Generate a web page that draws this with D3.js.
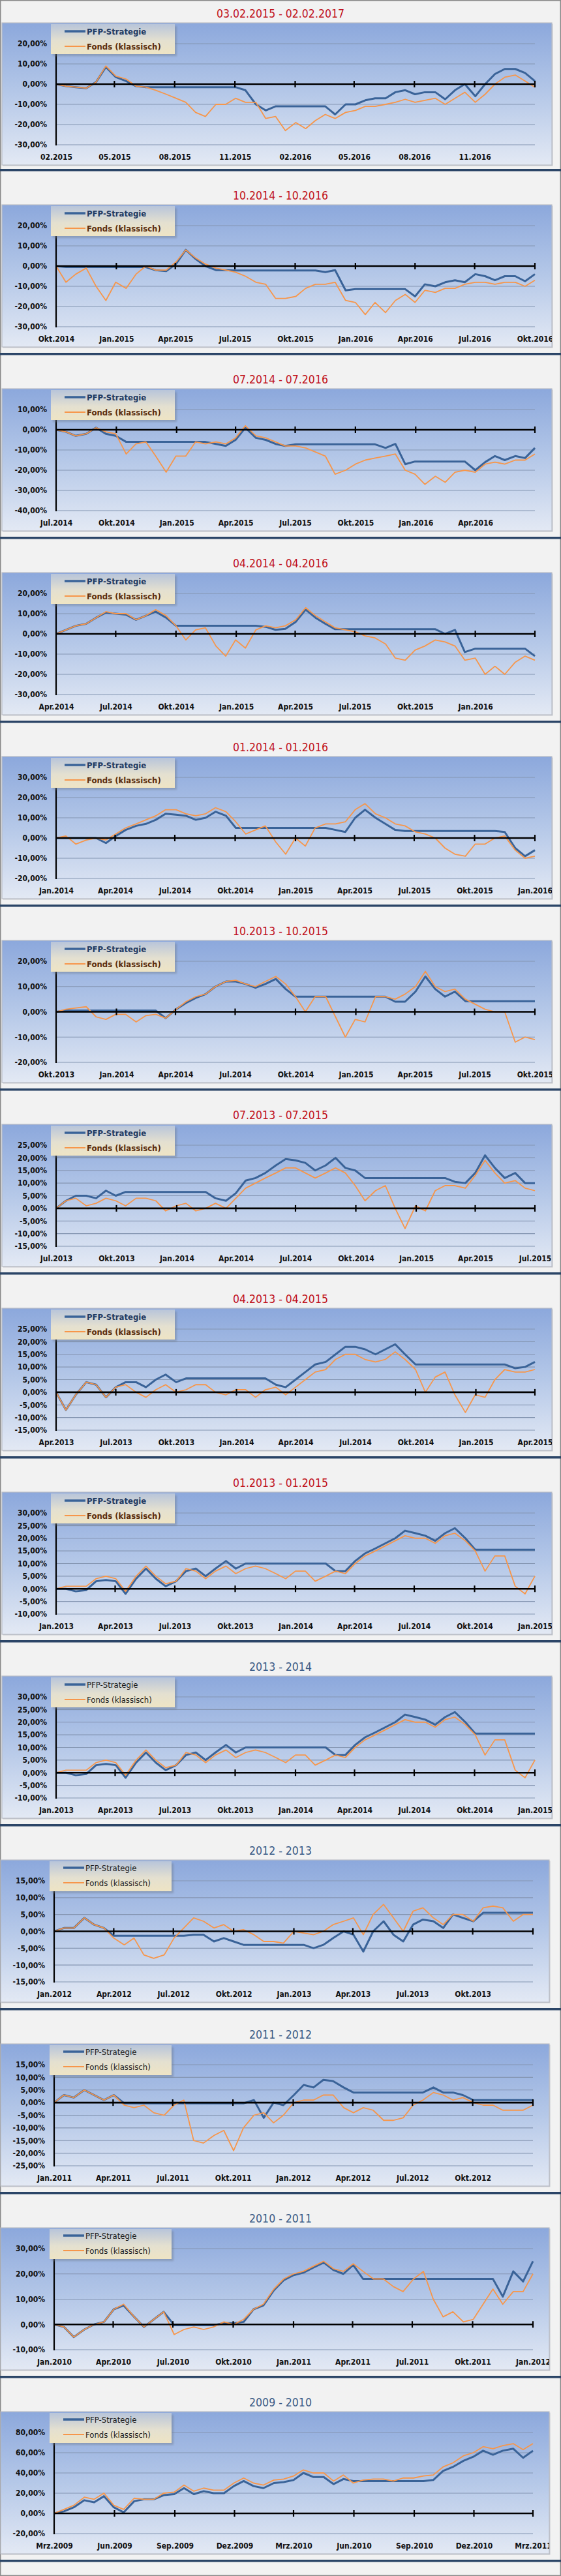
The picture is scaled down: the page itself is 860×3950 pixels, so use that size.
<!DOCTYPE html>
<html>
<head>
<meta charset="utf-8">
<script src="https://cdn.jsdelivr.net/npm/d3@7"></script>
<style>
html, body { margin: 0; padding: 0; background: #f2f2f2; }
svg { display: block; }
</style>
</head>
<body>
<script>

/* Data (values in %, read every half month) */

var titles = ["03.02.2015 - 02.02.2017", "10.2014 - 10.2016", "07.2014 - 07.2016", "04.2014 - 04.2016",
    "01.2014 - 01.2016", "10.2013 - 10.2015", "07.2013 - 07.2015", "04.2013 - 04.2015",
    "01.2013 - 01.2015", "2013 - 2014", "2012 - 2013", "2011 - 2012", "2010 - 2011", "2009 - 2010"];

var startDates = ["2015-02-01", "2014-10-01", "2014-07-01", "2014-04-01", "2014-01-01", "2013-10-01", "2013-07-01",
    "2013-04-01", "2013-01-01", "2013-01-01", "2012-01-01", "2011-01-01", "2010-01-01", "2009-03-01"];

var showEndLabel = [false, true, false, false, true, true, true, true, true, true, false, false, true, true];

var yTicks0 = [-30, -20, -10, 0, 10, 20];
var yTicks1 = [-30, -20, -10, 0, 10, 20];
var yTicks2 = [-40, -30, -20, -10, 0, 10];
var yTicks3 = [-30, -20, -10, 0, 10, 20];
var yTicks4 = [-20, -10, 0, 10, 20, 30];
var yTicks5 = [-20, -10, 0, 10, 20];
var yTicks6 = [-15, -10, -5, 0, 5, 10, 15, 20, 25];
var yTicks7 = [-15, -10, -5, 0, 5, 10, 15, 20, 25];
var yTicks8 = [-10, -5, 0, 5, 10, 15, 20, 25, 30];
var yTicks9 = [-10, -5, 0, 5, 10, 15, 20, 25, 30];
var yTicks10 = [-15, -10, -5, 0, 5, 10, 15];
var yTicks11 = [-25, -20, -15, -10, -5, 0, 5, 10, 15];
var yTicks12 = [-10, 0, 10, 20, 30];
var yTicks13 = [-20, 0, 20, 40, 60, 80];

var pfp0 = [0, -1, -1.5, -2, 1, 8.5, 3.5, 1.5, -1, -1.5, -1.5, -1.5, -1.5, -1.5, -1.5, -1.5, -1.5, -1.5, -1.5, -3,
    -10, -13, -11, -11, -11, -11, -11, -11, -15, -10, -10, -8, -7, -7, -4, -3, -5, -4, -4, -7.5,
    -3, 0, -6, 0, 5, 7.5, 7.5, 5.5, 1.5];
var fonds0 = [0, -1, -1.5, -2, 1, 9, 4, 2.5, -1, -1.5, -3, -5, -7, -9, -14, -16, -10, -10, -7, -9,
    -9, -17, -16, -23, -19, -22, -18, -15, -17, -14, -13, -11, -11, -10, -9, -7.5, -9, -8, -7, -10,
    -7, -4, -9, -5, 0, 3.4, 4.5, 1.5, -1.5];

var pfp1 = [0, -0.5, -0.5, -0.5, -0.5, -0.5, -0.5, -0.5, -0.5, -0.5, -2, -2.5, 1, 8, 3.5, 0, -2, -2, -2.2, -2.2,
    -2.2, -2.2, -2.2, -2.2, -2.2, -2.2, -2.2, -3, -2, -12, -11.4, -11.4, -11.4, -11.4, -11.4, -11.4, -15, -9, -10, -8,
    -7, -8, -4, -5, -7, -5, -5, -7.5, -4];
var fonds1 = [0, -8, -4, -1, -10, -17, -8, -11, -4, 0, -2, -2, 2, 8, 4, 1, -1, -2, -3, -5,
    -8, -9, -16, -16, -15, -11, -9, -9, -8, -17, -18, -24, -18, -23, -17, -14, -18, -12, -13, -11,
    -11, -9, -8, -8, -9, -8, -8, -10, -7];

var pfp2 = [0, -1, -3, -2, 1, -2, -3, -6, -6, -6, -6, -6, -6, -6, -6, -6, -7, -8, -5, 1,
    -4, -5, -7, -8, -7.2, -7.2, -7.2, -7.2, -7.2, -7.2, -7.2, -7.2, -7.2, -9, -7, -17, -15.7, -15.7, -15.7, -15.7,
    -15.7, -15.7, -20, -16, -13, -15, -13, -14, -9];
var fonds2 = [0, -1, -3, -2, 1, -1, -2, -12, -7, -6, -13, -21, -13, -13, -6, -7, -6, -7, -4, 2,
    -3, -4, -6, -8, -8, -9, -11, -13, -22, -20, -17, -15, -14, -13, -12, -20, -22, -27, -23, -26,
    -21, -20, -21, -17, -16, -17, -15, -15, -12];

var pfp3 = [0, 2, 4, 5, 8, 10.5, 10, 9.5, 7, 9, 11, 8, 4, 4, 4, 4, 4, 4, 4, 4,
    4, 3.5, 2, 2.5, 6, 12, 8, 5, 2.3, 2.3, 2.3, 2.3, 2.3, 2.3, 2.3, 2.3, 2.3, 2.3, 2.3, 0,
    2, -9, -7.3, -7.3, -7.3, -7.3, -7.3, -7.3, -11];
var fonds3 = [0, 2, 4, 5, 8, 11, 10, 10, 7, 9, 12, 9, 4, -3, 2, 3, -6, -11, -3, -7,
    2, 4, 3, 4, 7, 13, 9, 6, 3, 2, 1, -1, -2, -5, -12, -13, -8, -6, -3, -4,
    -6, -13, -12, -20, -16, -20, -14, -11, -13];

var pfp4 = [0, 0, 0, 0, 0, -2.5, 1, 4, 6, 7, 9, 12, 11.5, 11, 9, 10, 13, 11, 5, 5,
    5, 5, 5, 5, 5, 5, 5, 5, 4, 3, 10, 14, 10, 7, 4, 3.5, 3.5, 3.5, 3.5, 3.5,
    3.5, 3.5, 3.5, 3.5, 3.5, 3, -5, -9, -6];
var fonds4 = [0, 1, -3, -1, 0, -1, 2, 5, 7, 9, 11, 14, 14, 12, 11, 12, 15, 13, 8, 2,
    4, 6, -2, -8, 0, -4, 5, 7, 7, 8, 14, 17, 12, 10, 7, 6, 3, 2, 0, -5,
    -8, -9, -3, -3, 0, 1, -6, -10, -9];

var pfp5 = [0, 0.5, 0.5, 0.5, 0.5, 0.5, 0.5, 0.5, 0.5, 0.5, 0.5, -2.5, 1, 3.5, 5.5, 7, 10, 12, 12, 11,
    9.5, 11, 13, 9, 6, 6, 6, 6, 6, 6, 6, 6, 6, 6, 4, 4, 8, 14, 9, 6,
    8, 4.2, 4.2, 4.2, 4.2, 4.2, 4.2, 4.2, 4.2];
var fonds5 = [0, 1, 1.5, 2, -2, -3, -1, -1, -4, -1.5, -1, -2.5, 1, 4, 6, 7, 10, 12, 12.5, 11,
    10, 12, 14, 11, 6, 0, 6, 6, -2, -10, -3, -4, 6, 6, 5, 7, 10, 16, 10, 8,
    9, 5, 3, 1, 0, 0, -12, -10, -11];

var pfp6 = [0, 3, 5, 5, 4, 7, 5, 6.5, 6.5, 6.5, 6.5, 6.5, 6.5, 6.5, 6.5, 6.5, 4, 3, 6, 11,
    12, 14, 17, 19.5, 19, 18, 15, 17, 20, 16, 15, 12, 12, 12, 12, 12, 12, 12, 12, 12,
    10.5, 10, 14, 21, 16, 12, 14, 10, 10];
var fonds6 = [0, 3, 4, 1, 2, 4, 3, 1, 4, 4, 3, -1, 1, 2, -1, 0, 2, 0, 4, 8,
    10, 12, 14, 16, 16, 14, 12, 14, 16, 14, 9, 3, 7, 9, 0, -8, 1, -1, 7, 9,
    9, 8, 13, 19, 14, 10, 11, 8, 7];

var pfp7 = [0, -7, -1, 4, 3, -2, 2, 4, 4, 2, 5, 7, 4, 5.5, 5.5, 5.5, 5.5, 5.5, 5.5, 5.5,
    5.5, 5.5, 3, 2, 5, 8, 11, 12, 15, 18, 18, 17, 15, 17, 19, 15, 11, 11, 11, 11,
    11, 11, 11, 11, 11, 11, 9.5, 10, 12];
var fonds7 = [0, -7, -1, 4, 3, -2, 2, 3, 0, -2, 1, 3, 0, 1, 3, 3, 0, -1, 1, 1,
    -2, 1, 2, -1, 2, 5, 8, 9, 13, 15, 15, 13, 12, 13, 16, 13, 9, 0, 6, 8,
    -1, -8, -1, -2, 5, 9, 8, 8, 9];

var pfp8 = [0, 0, -1, -0.5, 3, 3.5, 3, -2, 4, 8, 4, 1, 3, 7, 8, 5, 8, 11, 8, 10,
    10, 10, 10, 10, 10, 10, 10, 10, 7, 7, 11, 14, 16, 18, 20, 23, 22, 21, 19, 22,
    24, 20, 15.5, 15.5, 15.5, 15.5, 15.5, 15.5, 15.5];
var fonds8 = [0, 1, 1, 1, 4, 5, 4, -1, 5, 9, 5, 2, 3, 8, 7, 4, 7, 9, 6, 8,
    9, 8, 6, 4, 7, 7, 3, 5, 7, 6, 10, 13, 15, 17, 19, 21, 20, 20, 18, 21,
    22, 19, 15, 7, 13, 13, 1, -2, 5];

var pfp10 = [0, 1, 1, 4, 2, 1, -1.3, -1.3, -1.3, -1.3, -1.3, -1.3, -1.3, -1.3, -1, -1, -3, -2, -3, -4,
    -4, -4, -4, -4, -4, -4, -5, -4, -2, 0, -1, -6, 0, 3, -1, -3, 2, 3.5, 3, 1,
    5, 4, 3, 5.5, 5.5, 5.5, 5.5, 5.5, 5.5];
var fonds10 = [0, 1, 1, 4, 2, 1, -2, -4, -2, -7, -8, -7, -2, 1, 4, 3, 1, 2, 0, 0.5,
    -1, -3, -3, -3.5, 0, -0.5, -1, 0, 2, 3, 4, -1, 5, 8, 4, 0, 6, 7, 4, 2,
    5, 5, 3, 7, 7.5, 7, 3, 5, 5];

var pfp11 = [0, 3, 2, 5, 3, 1, 3, -0.3, -0.3, -0.3, -0.3, -0.3, -0.3, -0.3, -0.3, -0.3, -0.3, -0.3, -0.3, -0.3,
    1, -6, 0, -1, 3, 7, 6, 9, 8.5, 6, 4, 4, 4, 4, 4, 4, 4, 4, 6, 4,
    4, 3, 1, 1, 1, 1, 1, 1, 1];
var fonds11 = [0, 3, 2, 5, 3, 1, 3, -1, -2, -1, -4, -5, -1, 1, -15, -16, -13, -11, -19, -10,
    -5, -4, -8, -5, 0, 1, 1, 3, 3, -2, -4, -2, -3, -7, -7, -6, -1, 1, 4, 3,
    1, 2, 0, -1, -1, -3, -3, -3, -1];

var pfp12 = [0, -1, -5, -2, 0, 1, 6, 7.5, 3, -1, 2, 5, -0.3, -0.3, -0.3, -0.3, -0.3, 0.5, 0.5, 1,
    6, 7.5, 13.5, 17.5, 19.5, 20.5, 22.5, 24.5, 21.5, 20, 23.5, 18, 18, 18, 18, 18, 18, 18, 18, 18,
    18, 18, 18, 18, 18, 11, 21, 17, 25];
var fonds12 = [0, -1, -5, -2, 0, 1, 6, 8, 3, -1, 2, 5, -4, -2, -1, -2, -1, 1, 0, 2,
    6, 8, 14, 18, 20, 21, 23, 25, 22, 21, 24, 21, 18, 18, 15, 13, 18, 21, 10, 3,
    5, 1, 2, 8, 14, 8, 13, 13, 20];

var pfp13 = [0, 2, 6, 13, 11, 17, 6, 1, 12, 14, 14, 18, 19, 25, 19, 22, 20, 20, 27, 32,
    27, 25, 30, 31, 33, 40, 36, 36, 29, 34, 32, 32, 32, 32, 32, 32, 32, 32, 33, 42,
    46, 52, 56, 62, 58, 62, 64, 55, 62];
var fonds13 = [0, 4, 8, 16, 14, 20, 8, 4, 15, 14, 14, 20, 21, 28, 22, 25, 23, 23, 30, 35,
    30, 28, 33, 34, 37, 43, 40, 40, 32, 38, 30, 33, 34, 34, 32, 35, 35, 37, 38, 46,
    50, 57, 60, 66, 64, 67, 69, 63, 69];

var yTickList = [yTicks0, yTicks1, yTicks2, yTicks3, yTicks4, yTicks5, yTicks6, yTicks7, yTicks8, yTicks9, yTicks10, yTicks11, yTicks12, yTicks13];
var pfpList = [pfp0, pfp1, pfp2, pfp3, pfp4, pfp5, pfp6, pfp7, pfp8, pfp8, pfp10, pfp11, pfp12, pfp13];
var fondsList = [fonds0, fonds1, fonds2, fonds3, fonds4, fonds5, fonds6, fonds7, fonds8, fonds8, fonds10, fonds11, fonds12, fonds13];


/* Page */

var W = 860, H = 3950;
var BLUE = "#3a6398", ORANGE = "#f7964a";
var FONT = "'DejaVu Sans Condensed', 'DejaVu Sans', Verdana, sans-serif";

var de = d3.timeFormatLocale({
    dateTime: "%A, der %e. %B %Y, %X", date: "%d.%m.%Y", time: "%H:%M:%S", periods: ["AM", "PM"],
    days: ["Sonntag", "Montag", "Dienstag", "Mittwoch", "Donnerstag", "Freitag", "Samstag"],
    shortDays: ["So", "Mo", "Di", "Mi", "Do", "Fr", "Sa"],
    months: ["Januar", "Februar", "März", "April", "Mai", "Juni", "Juli", "August", "September", "Oktober", "November", "Dezember"],
    shortMonths: ["Jan", "Feb", "Mrz", "Apr", "Mai", "Jun", "Jul", "Aug", "Sep", "Okt", "Nov", "Dez"]
});
var fmtMonth = de.format("%b.%Y");
var fmtNum = de.format("%m.%Y");
var parse = d3.timeParse("%Y-%m-%d");
var pct = function(d) { return d.toFixed(2).replace(".", ",") + "%"; };

var svg = d3.select("body").append("svg")
    .attr("width", W)
    .attr("height", H);

var defs = svg.append("defs");

var bg = defs.append("linearGradient").attr("id", "boxbg")
    .attr("x1", 0).attr("y1", 0).attr("x2", 0).attr("y2", 1);
bg.append("stop").attr("offset", "0%").attr("stop-color", "#8ca8dc");
bg.append("stop").attr("offset", "50%").attr("stop-color", "#b5c8e8");
bg.append("stop").attr("offset", "100%").attr("stop-color", "#e3e9f4");

var lg = defs.append("linearGradient").attr("id", "legbg")
    .attr("x1", 0).attr("y1", 0).attr("x2", 0).attr("y2", 1);
lg.append("stop").attr("offset", "0%").attr("stop-color", "#b8c5da");
lg.append("stop").attr("offset", "55%").attr("stop-color", "#e4e0d0");
lg.append("stop").attr("offset", "100%").attr("stop-color", "#eee4c4");

defs.append("filter").attr("id", "blur")
    .attr("x", "-10%").attr("y", "-10%").attr("width", "130%").attr("height", "140%")
    .append("feGaussianBlur").attr("stdDeviation", 1.8);

svg.append("rect")
    .attr("x", 0.75).attr("y", 0.75)
    .attr("width", W - 1.5).attr("height", H - 1.5)
    .attr("fill", "#f2f2f2")
    .attr("stroke", "#8a8a8a")
    .attr("stroke-width", 1.5);

// dark separators between the charts
svg.selectAll(".sep")
    .data(d3.range(14))
    .enter()
    .append("rect")
    .attr("class", "sep")
    .attr("x", 0)
    .attr("y", function(k) { return 259 + 282 * k; })
    .attr("width", W)
    .attr("height", 3.5)
    .attr("fill", "#2b4567");


/* Charts */

titles.forEach(function(title, k) {
    var top = 260 + 282 * (k - 1);
    var boxTop = top + (k === 0 ? 57 : 54);
    var wide = k >= 10;
    var blueTitle = k >= 9;
    var bx0 = wide ? 1 : 3, bx1 = wide ? 842 : 846;
    var left = wide ? 83 : 86, right = wide ? 817 : 820;
    var ticks = yTickList[k];

    var start = parse(startDates[k]);
    var end = d3.timeMonth.offset(start, 24);
    var days = d3.timeDay.count(start, end);

    var x = d3.scaleTime().domain([start, end]).range([left, right]);
    var y = d3.scaleLinear().domain([ticks[0], ticks[ticks.length - 1]]).range([boxTop + 187, boxTop + 32]);

    var pts = function(arr) {
        return arr.map(function(v, i) {
            return { date: d3.timeDay.offset(start, Math.round(i * days / (arr.length - 1))), v: v };
        });
    };

    svg.append("text")
        .attr("x", W / 2)
        .attr("y", boxTop - 8)
        .attr("text-anchor", "middle")
        .attr("font-family", FONT)
        .attr("font-size", 17.5)
        .attr("fill", blueTitle ? "#3a5b86" : "#c0111b")
        .text(title);

    svg.append("rect")
        .attr("x", bx0 + 1.5).attr("y", boxTop + 1.5)
        .attr("width", bx1 - bx0).attr("height", 218)
        .attr("fill", "#c3c6cc");

    svg.append("rect")
        .attr("x", bx0).attr("y", boxTop)
        .attr("width", bx1 - bx0).attr("height", 218)
        .attr("fill", "url(#boxbg)")
        .attr("stroke", "#b9bdc5")
        .attr("stroke-width", 1.2);

    defs.append("clipPath").attr("id", "clip" + k)
        .append("rect")
        .attr("x", bx0).attr("y", boxTop)
        .attr("width", bx1 - bx0).attr("height", 218);

    var g = svg.append("g").attr("clip-path", "url(#clip" + k + ")");

    // gridlines
    g.selectAll(".grid")
        .data(ticks.filter(function(t) { return t !== 0; }))
        .enter()
        .append("line")
        .attr("x1", left).attr("x2", right)
        .attr("y1", function(t) { return y(t); })
        .attr("y2", function(t) { return y(t); })
        .attr("stroke", "#8495b1")
        .attr("stroke-width", 1.2);

    var line = d3.line()
        .x(function(d) { return x(d.date); })
        .y(function(d) { return y(d.v); });

    g.append("path")
        .datum(pts(pfpList[k]))
        .attr("d", line)
        .attr("fill", "none")
        .attr("stroke", BLUE)
        .attr("stroke-width", 3)
        .attr("stroke-linejoin", "round");

    g.append("path")
        .datum(pts(fondsList[k]))
        .attr("d", line)
        .attr("fill", "none")
        .attr("stroke", ORANGE)
        .attr("stroke-width", 1.8)
        .attr("stroke-linejoin", "round");

    // zero line with quarter ticks
    var xTicks = d3.range(0, 25, 3).map(function(m) { return d3.timeMonth.offset(start, m); });

    g.append("line")
        .attr("x1", left).attr("x2", right)
        .attr("y1", y(0)).attr("y2", y(0))
        .attr("stroke", "#000")
        .attr("stroke-width", 2.6);

    g.selectAll(".qt")
        .data(xTicks.slice(1))
        .enter()
        .append("line")
        .attr("x1", function(d) { return x(d); })
        .attr("x2", function(d) { return x(d); })
        .attr("y1", y(0) - 5)
        .attr("y2", y(0) + 5)
        .attr("stroke", "#000")
        .attr("stroke-width", 2.2);

    g.append("line")
        .attr("x1", left).attr("x2", left)
        .attr("y1", y(ticks[ticks.length - 1]) - 2)
        .attr("y2", y(ticks[0]) + 1)
        .attr("stroke", "#000")
        .attr("stroke-width", 2.2);

    var yAxis = g.append("g")
        .attr("transform", "translate(" + left + ",0)")
        .call(d3.axisLeft(y).tickValues(ticks).tickFormat(pct).tickSize(0).tickPadding(14));
    yAxis.select(".domain").remove();

    var xLabels = showEndLabel[k] ? xTicks : xTicks.slice(0, -1);
    var xAxis = g.append("g")
        .attr("transform", "translate(0," + (boxTop + 201) + ")")
        .call(d3.axisBottom(x).tickValues(xLabels).tickFormat(k === 0 ? fmtNum : fmtMonth).tickSize(0).tickPadding(0));
    xAxis.select(".domain").remove();

    g.selectAll(".tick text")
        .attr("font-family", FONT)
        .attr("font-size", 12)
        .attr("font-weight", "bold")
        .attr("fill", "#111");

    // legend
    var lx = wide ? 76 : 78, lw = wide ? 187 : 190;
    var ly1 = wide ? 12 : 13, ly2 = wide ? 35 : 36;
    var lgd = g.append("g");

    lgd.append("rect")
        .attr("x", lx + 3).attr("y", boxTop + 5)
        .attr("width", lw).attr("height", 46)
        .attr("fill", "#6e7a8e")
        .attr("opacity", 0.45)
        .attr("filter", "url(#blur)");

    lgd.append("rect")
        .attr("x", lx).attr("y", boxTop + 2)
        .attr("width", lw).attr("height", 46)
        .attr("fill", "url(#legbg)");

    var items = [
        { name: "PFP-Strategie", color: BLUE, w: 3.5, y: ly1, text: blueTitle ? "#1b1b1b" : "#1f3a63" },
        { name: "Fonds (klassisch)", color: ORANGE, w: 2, y: ly2, text: blueTitle ? "#1b1b1b" : "#5b2d0c" }
    ];

    items.forEach(function(it) {
        lgd.append("line")
            .attr("x1", lx + 21).attr("x2", lx + 53)
            .attr("y1", boxTop + it.y).attr("y2", boxTop + it.y)
            .attr("stroke", it.color)
            .attr("stroke-width", it.w);
        lgd.append("text")
            .attr("x", lx + 55)
            .attr("y", boxTop + it.y)
            .attr("dy", "0.36em")
            .attr("font-family", FONT)
            .attr("font-size", 13)
            .attr("font-weight", blueTitle ? "normal" : "bold")
            .attr("fill", it.text)
            .text(it.name);
    });
});

</script>
</body>
</html>
